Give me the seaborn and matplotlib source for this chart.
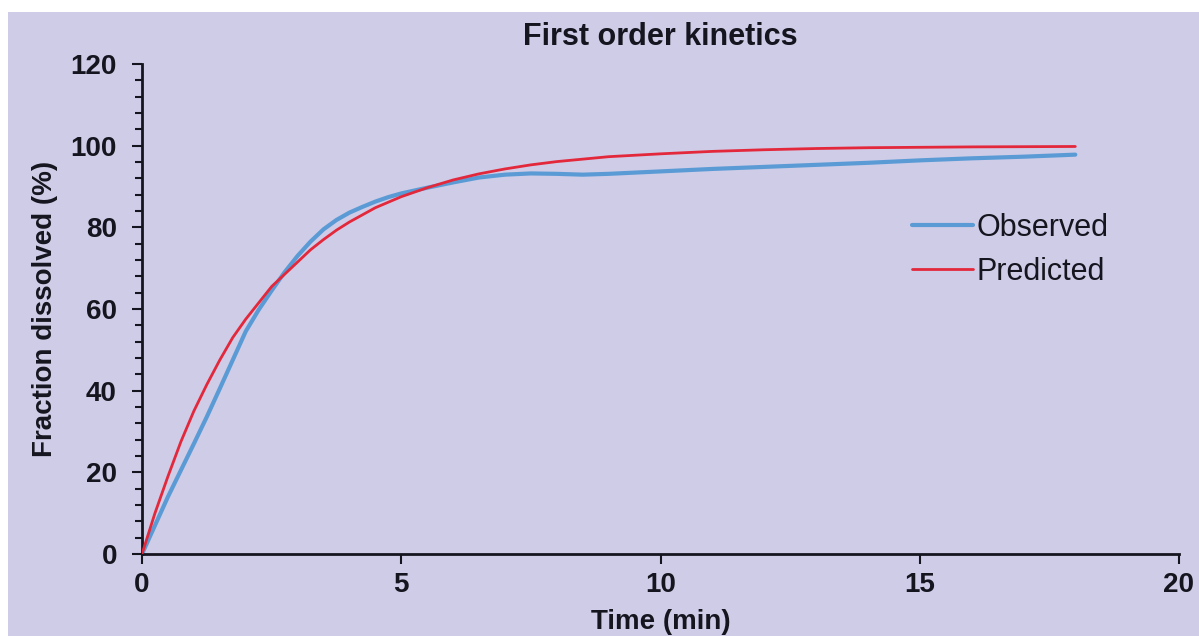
import numpy as np
import pandas as pd
import matplotlib
matplotlib.use("Agg")
import matplotlib.pyplot as plt
from matplotlib.patches import Rectangle
from matplotlib.ticker import MultipleLocator
import seaborn as sns

# ---- data ----
obs_time = [0, 0.25, 0.5, 0.75, 1, 1.25, 1.5, 1.75, 2, 2.25, 2.5, 2.75, 3,
            3.25, 3.5, 3.75, 4, 4.25, 4.5, 4.75, 5, 5.5, 6, 6.5, 7, 7.5, 8,
            8.5, 9, 9.5, 10, 11, 12, 13, 14, 15, 16, 17, 18]
obs_frac = [0, 7, 14, 20.5, 27, 33.6, 40.5, 47.5, 54.5, 59.8, 64.5, 69, 73,
            76.5, 79.5, 81.8, 83.6, 85, 86.3, 87.4, 88.3, 89.7, 91, 92.2, 92.9,
            93.2, 93.1, 92.9, 93.1, 93.4, 93.7, 94.3, 94.8, 95.3, 95.8, 96.4,
            96.9, 97.3, 97.8]
pred_time = [0, 0.25, 0.5, 0.75, 1, 1.25, 1.5, 1.75, 2, 2.25, 2.5, 2.75, 3,
             3.25, 3.5, 3.75, 4, 4.5, 5, 5.5, 6, 6.5, 7, 7.5, 8, 9, 10, 11, 12,
             13, 14, 15, 16, 17, 18]
pred_frac = [0, 10, 19, 27.5, 35, 41.5, 47.5, 53, 57.5, 61.5, 65.5, 68.5, 71.5,
             74.5, 77, 79.3, 81.3, 84.8, 87.5, 89.7, 91.6, 93.1, 94.3, 95.3,
             96.1, 97.3, 98, 98.6, 99, 99.3, 99.5, 99.6, 99.7, 99.75, 99.8]
series_names = ["Observed", "Predicted"]
x_ticks = [0, 5, 10, 15, 20]
y_ticks = [0, 20, 40, 60, 80, 100, 120]
title = "First order kinetics"
x_label = "Time (min)"
y_label = "Fraction dissolved (%)"

df = pd.concat([
    pd.DataFrame({"t": obs_time, "f": obs_frac, "s": series_names[0]}),
    pd.DataFrame({"t": pred_time, "f": pred_frac, "s": series_names[1]}),
])

BG = "#CFCCE7"
INK = "#15151F"
sns.set_theme(style="ticks")
plt.rcParams["font.family"] = ["Liberation Sans", "DejaVu Sans"]

W, H = 1199, 636
fig = plt.figure(figsize=(W / 100, H / 100), dpi=100, facecolor=BG)
# white strips on top and left edges
fig.patches.append(Rectangle((0, 1 - 12 / H), 1, 12 / H, transform=fig.transFigure,
                             facecolor="white", edgecolor="none", zorder=-5))
fig.patches.append(Rectangle((0, 0), 8 / W, 1, transform=fig.transFigure,
                             facecolor="white", edgecolor="none", zorder=-5))
ax = fig.add_axes([142 / W, 1 - 554 / H, (1179 - 142) / W, (554 - 64) / H])
ax.set_facecolor("none")

palette = {"Observed": "#5B9BD5", "Predicted": "#E3283C"}
sns.lineplot(data=df[df.s == "Observed"], x="t", y="f", color=palette["Observed"],
             lw=3.0, ax=ax, label="Observed", sort=True, zorder=2)
sns.lineplot(data=df[df.s == "Predicted"], x="t", y="f", color=palette["Predicted"],
             lw=2.0, ax=ax, label="Predicted", sort=True, zorder=3)

ax.set_xlim(0, 20)
ax.set_ylim(0, 120)
ax.set_xticks(x_ticks)
ax.set_yticks(y_ticks)
ax.yaxis.set_minor_locator(MultipleLocator(4))
ax.tick_params(axis="both", which="major", direction="out", length=7, width=1.5,
               color=INK, labelsize=20, labelcolor=INK)
ax.tick_params(axis="y", which="major", pad=11)
ax.tick_params(axis="x", which="major", pad=6)
ax.tick_params(axis="y", which="minor", direction="out", length=5, width=1.5,
               color=INK)
for lab in ax.get_xticklabels() + ax.get_yticklabels():
    lab.set_fontweight("bold")
for s in ["top", "right"]:
    ax.spines[s].set_visible(False)
for s in ["left", "bottom"]:
    ax.spines[s].set_linewidth(2)
    ax.spines[s].set_color(INK)

ax.set_title(title, fontsize=22, fontweight="bold", color=INK, pad=14)
ax.set_xlabel(x_label, fontsize=20, fontweight="bold", color=INK, labelpad=8)
ax.set_ylabel(y_label, fontsize=20, fontweight="bold", color=INK, labelpad=9)

ax.legend(loc="upper left", bbox_to_anchor=(912 / W, 1 - 213 / H),
          bbox_transform=fig.transFigure, frameon=False, fontsize=22,
          handlelength=2.0, handletextpad=0.12, labelspacing=0.45,
          borderpad=0, borderaxespad=0, labelcolor=INK)

fig.savefig("out.png", dpi=100, facecolor=BG)
